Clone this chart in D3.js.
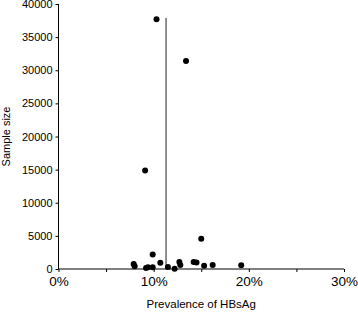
<!DOCTYPE html>
<html>
<head>
<meta charset="utf-8">
<script src="https://cdn.jsdelivr.net/npm/d3@7"></script>
<style>
  body { margin: 0; background: #fff; }
  text { font-family: "Liberation Sans", Arial, sans-serif; }
</style>
</head>
<body>
<svg width="358" height="316"></svg>
<script>
// Study data: prevalence (%) and sample size
const prevalence = [10.3, 13.4, 9.1, 15.0, 9.9, 7.9, 8.0, 9.2, 9.4, 9.9, 10.7, 11.5, 12.2, 12.7, 12.8, 14.2, 14.5, 15.3, 16.2, 19.2];
const sampleSize = [37700, 31400, 14850, 4550, 2200, 750, 400, 150, 250, 250, 950, 300, 50, 1050, 600, 1050, 1000, 500, 600, 550];
const pooled = 11.3;
const pooledTop = 37900;
const yTicks = [0, 5000, 10000, 15000, 20000, 25000, 30000, 35000, 40000];
const xTicks = [0, 5, 10, 15, 20, 25, 30];
const xLabels = [0, 10, 20, 30];

const margin = { top: 4, right: 14, bottom: 47, left: 58.5 };
const width = 358 - margin.left - margin.right;
const height = 316 - margin.top - margin.bottom;

const svg = d3.select("svg")
    .append("g")
    .attr("transform", `translate(${margin.left}, ${margin.top})`);

const xScale = d3.scaleLinear().domain([0, 30]).range([0, width]);
const yScale = d3.scaleLinear().domain([0, 40000]).range([height, 0]);

// Y axis
const yAxis = svg.append("g")
    .call(d3.axisLeft(yScale).tickValues(yTicks).tickSize(3).tickPadding(3).tickFormat(d3.format("d")));
yAxis.selectAll("text").style("font-size", "11px").attr("fill", "#000");
yAxis.selectAll("line").attr("stroke", "#000");
yAxis.select(".domain").attr("stroke", "#000").attr("d", `M0,${height}V0`);

// X axis
const xAxis = svg.append("g")
    .attr("transform", `translate(0, ${height})`)
    .call(d3.axisBottom(xScale).tickValues(xTicks).tickSize(3).tickPadding(4)
        .tickFormat(d => xLabels.includes(d) ? d + "%" : ""));
xAxis.selectAll("text").style("font-size", "13.5px").attr("fill", "#000");
xAxis.selectAll("line").attr("stroke", "#000");
xAxis.select(".domain").attr("stroke", "#000").attr("d", `M0,0H${width}`);

// Pooled prevalence line
svg.append("line")
    .attr("x1", xScale(pooled)).attr("x2", xScale(pooled))
    .attr("y1", yScale(pooledTop)).attr("y2", yScale(0))
    .attr("stroke", "#222")
    .attr("stroke-width", 1);

// Study points
svg.selectAll(".dot")
    .data(prevalence.map((p, i) => ({ p, n: sampleSize[i] })))
    .enter()
    .append("circle")
    .attr("class", "dot")
    .attr("cx", d => xScale(d.p))
    .attr("cy", d => yScale(d.n))
    .attr("r", 3)
    .attr("fill", "#000");

// Axis titles
svg.append("text")
    .attr("x", xScale(15))
    .attr("y", height + 39)
    .attr("text-anchor", "middle")
    .style("font-size", "11.5px")
    .text("Prevalence of HBsAg");

svg.append("text")
    .attr("transform", `translate(${-margin.left + 10}, ${yScale(20000)}) rotate(-90)`)
    .attr("text-anchor", "middle")
    .style("font-size", "11px")
    .text("Sample size");
</script>
</body>
</html>
